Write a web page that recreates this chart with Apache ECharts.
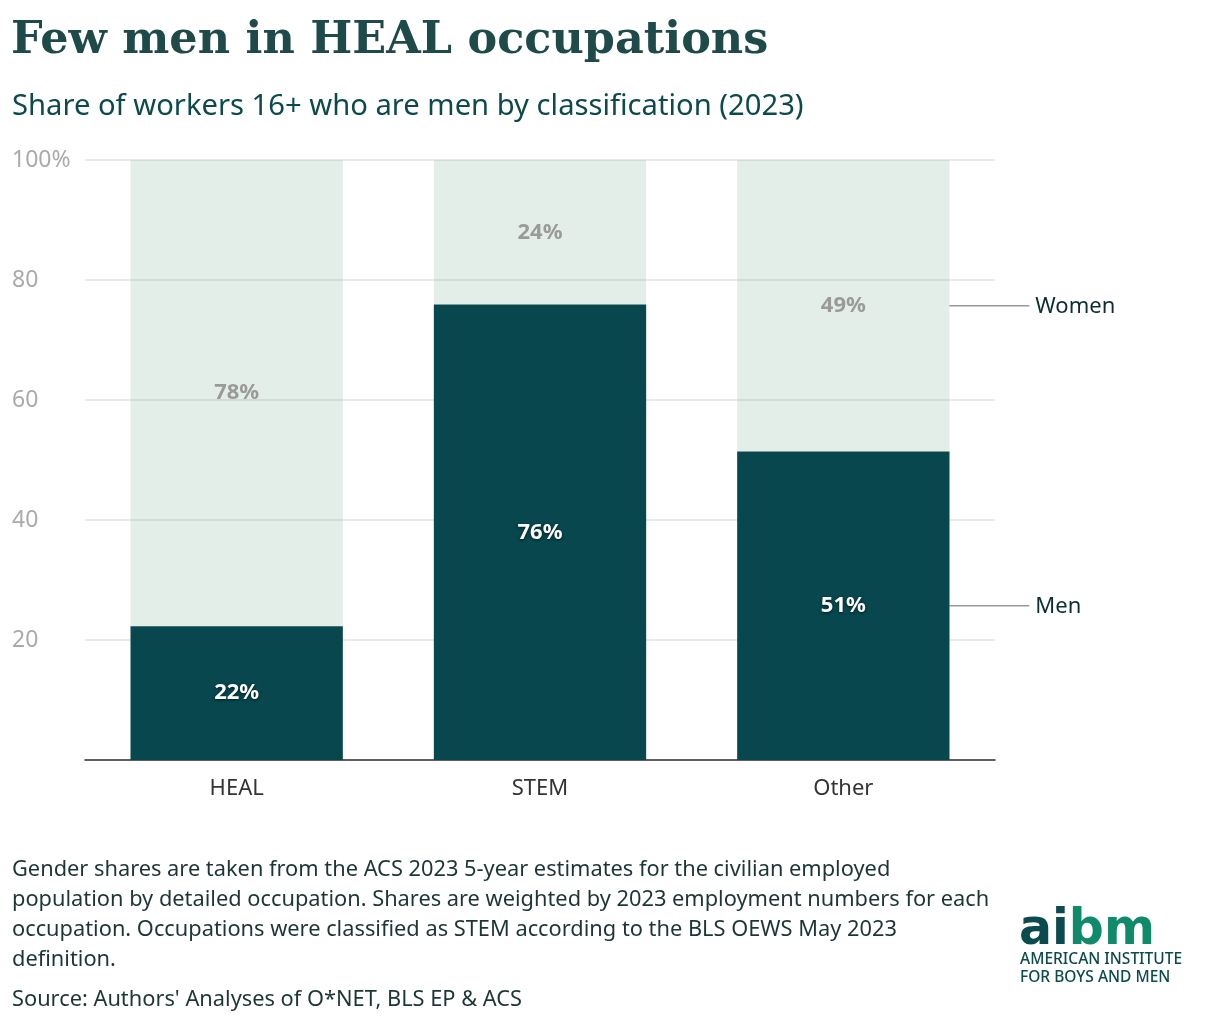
<!DOCTYPE html>
<html>
<head>
<meta charset="utf-8">
<script src="https://cdn.jsdelivr.net/npm/echarts@6/dist/echarts.min.js"></script>
<style>
  html, body { margin: 0; padding: 0; background: #fff; }
  #chart { width: 1220px; height: 1022px; }
</style>
</head>
<body>
<div id="chart"></div>
<script>
// data
var categories = ['HEAL', 'STEM', 'Other'];
var menShare = [22.3, 75.9, 51.4];
var womenShare = [77.7, 24.1, 48.6];
var yTickLabels = { 20: '20', 40: '40', 60: '60', 80: '80', 100: '100%' };
var noteLines = [
  'Gender shares are taken from the ACS 2023 5-year estimates for the civilian employed',
  'population by detailed occupation. Shares are weighted by 2023 employment numbers for each',
  'occupation. Occupations were classified as STEM according to the BLS OEWS May 2023',
  'definition.'
];
var sourceText = "Source: Authors' Analyses of O*NET, BLS EP & ACS";

var sans = '"Noto Sans", Lato, sans-serif';
var dark = '#07474d';
var light = 'rgba(22,113,63,0.12)';

var myChart = echarts.init(document.getElementById('chart'));

myChart.setOption({
  backgroundColor: '#fff',
  animation: false,
  title: [
    {
      text: 'Few men in HEAL occupations',
      left: 11, top: 19, padding: 0,
      textStyle: { fontFamily: '"DejaVu Serif", serif', fontWeight: 'bold', fontSize: 44.5, color: '#1f4a4a' }
    },
    {
      text: 'Share of workers 16+ who are men by classification (2023)',
      left: 12, top: 92, padding: 0,
      textStyle: { fontFamily: sans, fontWeight: 'normal', fontSize: 29.2, color: '#0d4a4d' }
    },
    {
      text: noteLines.join('\n'),
      left: 12, top: 855, padding: 0,
      textStyle: { fontFamily: sans, fontWeight: 'normal', fontSize: 21.8, lineHeight: 30, color: '#1e3535' }
    },
    {
      text: sourceText,
      left: 12, top: 985, padding: 0,
      textStyle: { fontFamily: sans, fontWeight: 'normal', fontSize: 21.8, lineHeight: 30, color: '#1e3535' }
    },
    {
      text: '{a|ai}{b|bm}',
      left: 1019, top: 907, padding: 0,
      textStyle: {
        rich: {
          a: { fontFamily: '"DejaVu Sans", sans-serif', fontWeight: 'bold', fontSize: 49, color: '#0b4a4d' },
          b: { fontFamily: '"DejaVu Sans", sans-serif', fontWeight: 'bold', fontSize: 49, color: '#0f8a6a' }
        }
      }
    },
    {
      text: 'AMERICAN INSTITUTE\nFOR BOYS AND MEN',
      left: 1020, top: 951, padding: 0,
      textStyle: { fontFamily: sans, fontSize: 15.5, color: '#0b4a4d', lineHeight: 18, fontWeight: 500 }
    }
  ],
  grid: { left: 85, right: 225, top: 160, bottom: 262, containLabel: false },
  xAxis: {
    type: 'category',
    data: categories,
    axisLine: { lineStyle: { color: '#333', width: 1.5 } },
    axisTick: { show: false },
    axisLabel: { fontFamily: sans, fontSize: 22, color: '#333', margin: 18 }
  },
  yAxis: {
    type: 'value',
    min: 0, max: 100, interval: 20,
    axisLine: { show: false },
    axisTick: { show: false },
    splitLine: { lineStyle: { color: '#e4e4e4', width: 1.5 } },
    axisLabel: {
      align: 'left', margin: 73,
      fontFamily: sans, fontSize: 23, color: '#aaaaaa',
      formatter: function (v) { return yTickLabels[v] || ''; }
    }
  },
  series: [
    {
      name: 'Men', type: 'bar', stack: 'total', barWidth: '70%',
      data: menShare,
      itemStyle: { color: dark },
      label: {
        show: true, position: 'inside',
        fontFamily: sans, fontWeight: 'bold', fontSize: 22, color: '#fff',
        textShadowColor: 'rgba(0,0,0,0.6)', textShadowBlur: 3, textShadowOffsetY: 1,
        formatter: function (p) { return Math.round(p.value) + '%'; }
      }
    },
    {
      name: 'Women', type: 'bar', stack: 'total', barWidth: '70%',
      data: womenShare,
      itemStyle: { color: light },
      label: {
        show: true, position: 'inside',
        fontFamily: sans, fontWeight: 'bold', fontSize: 22, color: '#9a9a9a',
        formatter: function (p) { return Math.round(p.value) + '%'; }
      }
    }
  ]
});

// side labels next to the last bar
var last = categories.length - 1;
var barRight = myChart.convertToPixel({ gridIndex: 0 }, [last, 0])[0] + 106;
var menY = myChart.convertToPixel({ gridIndex: 0 }, [last, menShare[last] / 2])[1];
var womenY = myChart.convertToPixel({ gridIndex: 0 }, [last, menShare[last] + womenShare[last] / 2])[1];
function sideLabel(name, y) {
  return [
    { type: 'line', shape: { x1: barRight, y1: y, x2: barRight + 80, y2: y }, style: { stroke: '#999', lineWidth: 1.5 } },
    { type: 'text', x: barRight + 86, y: y + 1, style: { text: name, fontFamily: sans, fontSize: 22, fill: '#0d2e30', verticalAlign: 'middle' } }
  ];
}
myChart.setOption({ graphic: sideLabel('Women', womenY).concat(sideLabel('Men', menY)) });
</script>
</body>
</html>
